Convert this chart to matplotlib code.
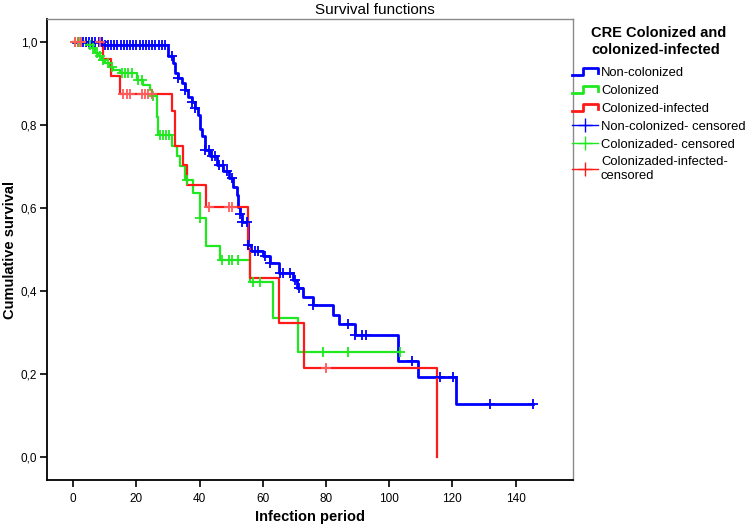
import numpy as np
import matplotlib
matplotlib.use("Agg")
import matplotlib.pyplot as plt
from matplotlib.lines import Line2D
from matplotlib.legend_handler import HandlerBase

plt.rcParams['font.family'] = ['Liberation Sans', 'DejaVu Sans']

# Kaplan-Meier step data (time, survival after the event)
blue_t = [0, 9.4, 30.1, 31.5, 32.2, 33.3, 34.3, 35.4, 36.4, 37.5, 38.6, 39.6, 40.1, 40.7,
          41.7, 43.3, 45.4, 47.4, 49.4, 50.7, 51.7, 52.2, 52.8, 53.3, 55.4, 56.3, 60.1,
          62.3, 65.2, 69.6, 70.8, 72.8, 76.0, 82.1, 84.0, 89.2, 102.9, 109.2, 121.1]
blue_s = [1.0, 0.993, 0.965, 0.949, 0.925, 0.912, 0.900, 0.884, 0.868, 0.856, 0.840, 0.824,
          0.790, 0.772, 0.740, 0.724, 0.702, 0.688, 0.671, 0.651, 0.631, 0.603, 0.585,
          0.565, 0.511, 0.495, 0.483, 0.467, 0.443, 0.425, 0.406, 0.386, 0.365, 0.342,
          0.320, 0.294, 0.230, 0.192, 0.128]
blue_cens = [3, 4, 5, 6, 7, 8, 9, 10, 11, 12, 13, 14, 15, 16, 17, 18, 19, 20, 21, 22, 23,
             24, 25, 26, 27, 28, 29, 31.2, 33.3, 35.4, 37.5, 38.6, 41.7, 42.9, 43.9, 45.0,
             46.0, 47.3, 48.6, 50.1, 52.8, 53.3, 54.9, 55.4, 57.5, 58.6, 60.7, 62.3, 65.4,
             66.5, 68.6, 70.3, 71.6, 76.0, 87.1, 89.2, 91.3, 92.8, 107.1, 116.0, 120.1,
             132.0, 145.4]

green_t = [0, 4.8, 5.9, 6.9, 8.0, 9.0, 10.1, 11.6, 12.7, 14.8, 20.1, 22.2, 24.3, 24.9,
           26.4, 26.9, 31.2, 32.8, 33.8, 35.4, 38.0, 40.1, 42.0, 46.3, 56.0, 63.2, 71.3]
green_s = [1.0, 0.993, 0.985, 0.973, 0.965, 0.957, 0.949, 0.940, 0.933, 0.925, 0.908,
           0.896, 0.884, 0.870, 0.820, 0.776, 0.750, 0.724, 0.700, 0.667, 0.635, 0.575,
           0.507, 0.473, 0.420, 0.335, 0.252]
green_cens = [0.5, 1.5, 2.2, 5.3, 6.4, 7.4, 8.5, 9.5, 11.0, 12.2, 15.3, 16.3, 17.3, 18.5,
              20.6, 21.7, 25.4, 27.5, 28.4, 29.3, 30.2, 35.9, 40.1, 47.0, 49.4, 50.1,
              52.2, 57.0, 59.1, 79.2, 87.1, 103.4]

red_t = [0, 9.5, 12.1, 14.8, 31.2, 32.2, 34.8, 36.1, 42.0, 55.4, 56.0, 65.2, 73.0, 115.0]
red_s = [1.0, 0.958, 0.917, 0.875, 0.833, 0.750, 0.703, 0.656, 0.603, 0.500, 0.430,
         0.322, 0.215, 0.0]
red_cens = [0.5, 1.5, 2.5, 8.5, 15.9, 16.9, 18.0, 21.7, 22.7, 23.8, 24.8, 43.1, 49.2,
            50.1, 79.9]

groups = ['Non-colonized', 'Colonized', 'Colonized-infected']
cens_labels = ['Non-colonized- censored', 'Colonizaded- censored',
               'Colonizaded-infected-\ncensored']
colors = ['#0000ff', '#1fe81f', '#ff1a1a']
cens_colors = ['#0000ff', '#1fe81f', '#ff5a5a']
widths = [2.0, 1.6, 1.6]


class StepHandler(HandlerBase):
    def create_artists(self, legend, orig_handle, xdescent, ydescent, width, height,
                       fontsize, trans):
        xs = np.array([0.0, 0.42, 0.42, 1.0, 1.0]) * width - xdescent
        ys = np.array([0.1, 0.1, 0.85, 0.85, 0.25]) * height - ydescent
        line = Line2D(xs, ys, color=orig_handle.get_color(),
                      lw=orig_handle.get_linewidth(), transform=trans)
        return [line]


fig = plt.figure(figsize=(7.5, 5.29), dpi=100)
ax = fig.add_axes([0.0627, 0.0926, 0.7013, 0.8715])

curves = [(blue_t, blue_s, blue_cens), (green_t, green_s, green_cens),
          (red_t, red_s, red_cens)]
for (t, s, cens), col, lw in zip(curves, colors, widths):
    t = np.array(t, dtype=float)
    s = np.array(s, dtype=float)
    if max(cens) > t[-1]:
        t = np.append(t, max(cens))
        s = np.append(s, s[-1])
    ax.step(t, s, where='post', color=col, lw=lw, zorder=2)

for (t, s, cens), col in zip(curves, cens_colors):
    idx = np.searchsorted(np.array(t), np.array(cens), side='right') - 1
    ax.plot(cens, np.array(s)[idx], ls='none', marker='+', ms=7, mew=1.3,
            color=col, zorder=3)

ax.set_xlim(-8.3, 158.2)
ax.set_ylim(-0.056, 1.055)
ax.set_xticks(np.arange(0, 141, 20))
ax.set_yticks(np.arange(0, 1.01, 0.2))
ax.set_yticklabels([f'{v:.1f}'.replace('.', ',') for v in np.arange(0, 1.01, 0.2)])
ax.tick_params(axis='both', direction='out', length=5, width=1.2, labelsize=8.5,
               pad=2, color='black')
ax.tick_params(axis='x', pad=4)

for side in ['top', 'right']:
    ax.spines[side].set_color('#8a8a8a')
    ax.spines[side].set_linewidth(1.0)
for side in ['left', 'bottom']:
    ax.spines[side].set_color('black')
    ax.spines[side].set_linewidth(1.3)

# axis titles placed in figure pixels like the reference
fig.text((47 + 573) / 2 / 750, 1 - 517 / 529, 'Infection period', ha='center',
         va='center', fontsize=10.5, fontweight='bold')
fig.text(10 / 750, 1 - 250 / 529, 'Cumulative survival', ha='center', va='center',
         rotation=90, fontsize=10.5, fontweight='bold')
fig.text(0.5, 0.981, 'Survival functions', ha='center', va='center', fontsize=11)

handles = [Line2D([], [], color=c, lw=2.0) for c in colors]
handles += [Line2D([], [], color=c, lw=1.0, marker='+', ms=10, mew=1.0)
            for c in colors]
handler_map = {h: StepHandler() for h in handles[:3]}
leg = fig.legend(handles, groups + cens_labels, handler_map=handler_map,
                 loc='upper left', bbox_to_anchor=(0.763, 0.950), frameon=False,
                 fontsize=9.4, title='CRE Colonized and\ncolonized-infected',
                 title_fontproperties={'size': 10.5, 'weight': 'bold'},
                 handlelength=2.0, handletextpad=0.2, labelspacing=0.45,
                 borderpad=0, borderaxespad=0)
leg._legend_box.sep = 7

fig.savefig('out.png', dpi=100)
